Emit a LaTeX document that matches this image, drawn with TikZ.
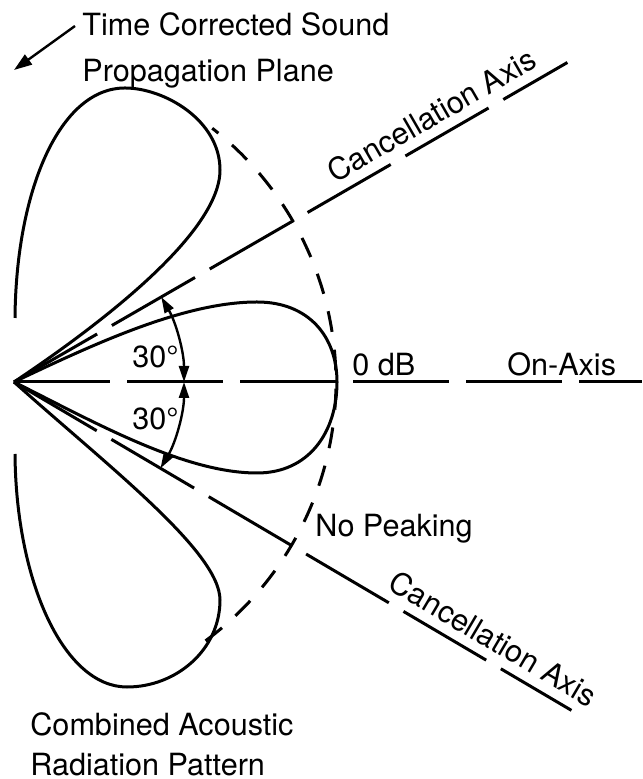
\documentclass[tikz,border=0pt]{standalone}
\usepackage{fontspec}
\setmainfont{TeX Gyre Heros}
\usetikzlibrary{arrows.meta}

\tikzstyle{lobe} = [draw, line width=1.5pt]
\tikzstyle{axisline} = [draw, line width=1.5pt, dash pattern=on 48pt off 8.5pt]
\tikzstyle{peak} = [draw, line width=1.5pt, dash pattern=on 10.5pt off 9pt]
\tikzstyle{anglearrow} = [draw, line width=1.2pt, {Triangle[length=8pt,width=5pt]}-{Triangle[length=8pt,width=5pt]}]
\tikzstyle{note} = [inner sep=0pt, align=left, font=\fontsize{15.3}{20}\selectfont]
\tikzstyle{axistext} = [sloped, above, inner sep=4.5pt, font=\fontsize{15.3}{20}\selectfont]

\begin{document}
\begin{tikzpicture}[x=0.5pt, y=0.5pt]
	\useasboundingbox (-14,-397) rectangle (628,382);
	% Points
	\coordinate (src) at (0,0);
	\coordinate (onend) at (628,0);
	\coordinate (upend) at (30:639);
	\coordinate (lowend) at (-30.5:647);
	\coordinate (planetail) at (61,356);
	\coordinate (planetip) at (0,312);

	% Lobes
	\path [lobe] (src) .. controls (80,38) and (170,80) .. (243,80)
		.. controls (295,80) and (323,45) .. (323,0)
		.. controls (323,-50) and (295,-91) .. (243,-91)
		.. controls (170,-91) and (80,-40) .. (src);
	\path [lobe] (1,64) .. controls (2,190) and (45,294) .. (111,294)
		.. controls (150,294) and (206,262) .. (206,212)
		.. controls (206,150) and (90,60) .. (src);
	\path [lobe] (1,-72) .. controls (2,-200) and (50,-305) .. (113,-305)
		.. controls (162,-305) and (206,-268) .. (206,-218)
		.. controls (206,-170) and (95,-85) .. (src);

	% Axes
	\path [axisline] (src) -- (onend);
	\path [axisline] (src) -- node [axistext, pos=0.775] {Cancellation Axis} (upend);
	\path [axisline] (src) -- node [axistext, pos=0.84] {Cancellation Axis} (lowend);
	\path [peak] (src) ++(-53.5:322) arc [start angle=-53.5, end angle=52, radius=322];

	% Angles
	\path [anglearrow] (src) ++(30:170) arc [start angle=30, end angle=0, radius=170];
	\path [anglearrow] (src) ++(0:170) arc [start angle=0, end angle=-30.5, radius=170];

	% Labels
	\node [note, anchor=north west, font=\fontsize{15.3}{23}\selectfont] (plane) at (68,370) {Time Corrected Sound\\Propagation Plane};
	\path [draw, line width=1.2pt, -{Triangle[length=9pt,width=6pt]}] (planetail) -- (planetip);
	\node [note, anchor=base west] (zerodb) at (338,6) {0 dB};
	\node [note, anchor=base west] (onaxis) at (493,6) {On-Axis};
	\node [note, anchor=base west] (upangle) at (118,14) {30°};
	\node [note, anchor=base west] (lowangle) at (118,-48) {30°};
	\node [note, anchor=base west] (nopeak) at (301,-155) {No Peaking};
	\node [note, anchor=north west] (pattern) at (16,-330) {Combined Acoustic\\Radiation Pattern};
\end{tikzpicture}
\end{document}
